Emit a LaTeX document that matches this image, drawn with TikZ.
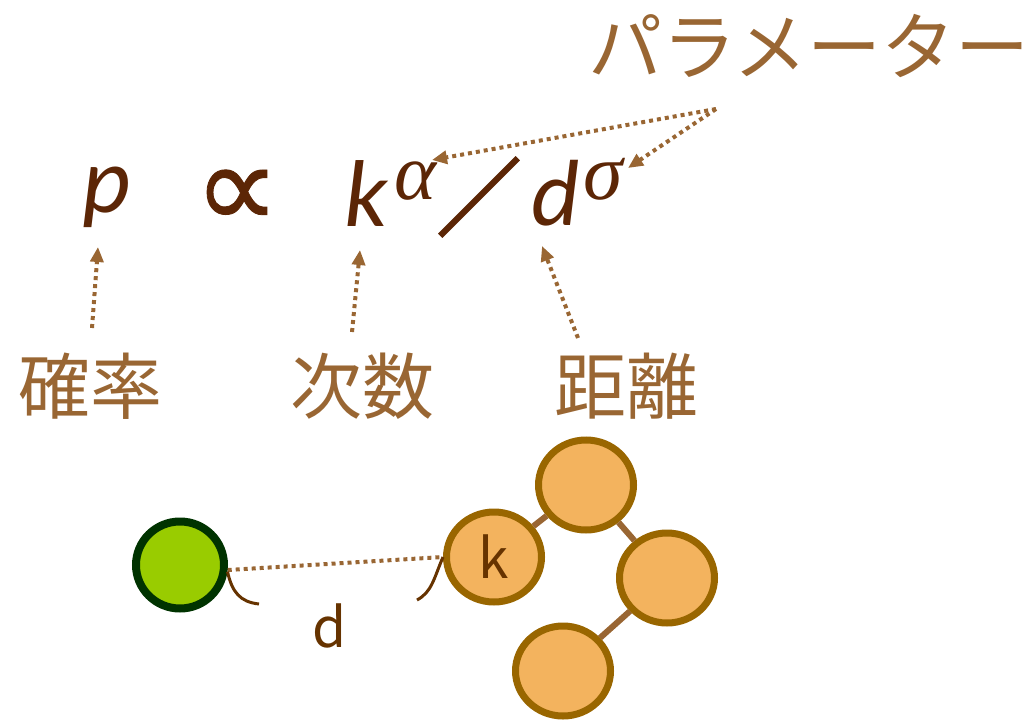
\documentclass[tikz,border=0pt]{standalone}
\usepackage{fontspec}
\usetikzlibrary{arrows.meta,shapes.geometric}
\newfontfamily\jpfont{Noto Sans CJK JP}
\newfontfamily\jpheavy[FakeBold=3]{Noto Sans CJK JP}
\newfontfamily\calfont{Carlito}
\newfontfamily\greekfont{Liberation Serif}
\newfontfamily\djfont[FakeBold=0.7]{DejaVu Sans}
\definecolor{labbrown}{HTML}{996633}
\definecolor{formbrown}{HTML}{5C2606}
\definecolor{darkbrown}{HTML}{663300}
\definecolor{orfill}{HTML}{F3B35E}
\definecolor{ordraw}{HTML}{996600}
\definecolor{grfill}{HTML}{99CC00}
\definecolor{grdraw}{HTML}{003300}
\tikzset{
  labeltext/.style={text=labbrown, font=\jpfont\fontsize{72}{80}\selectfont, inner sep=0pt},
  formtext/.style={text=formbrown, inner sep=0pt},
  dotarrow/.style={draw=labbrown, line width=4pt, dash pattern=on 4pt off 4pt, -{Triangle[length=15pt,width=13pt]}},
  dotline/.style={draw=labbrown, line width=4pt, dash pattern=on 4pt off 4pt},
  ornode/.style={ellipse, draw=ordraw, fill=orfill, line width=7pt, minimum width=95pt, minimum height=90pt, inner sep=0pt, text=darkbrown, font=\jpfont\fontsize{55}{60}\selectfont},
  grnode/.style={ellipse, draw=grdraw, fill=grfill, line width=8pt, minimum width=88pt, minimum height=87pt, inner sep=0pt},
  edge/.style={draw=labbrown, line width=6pt},
  brace/.style={draw=darkbrown, line width=3pt}
}
\begin{document}
\begin{tikzpicture}[x=1pt,y=-1pt]
\useasboundingbox (0,0) rectangle (1035,722);
% title
\node[labeltext, font=\jpfont\fontsize{74}{80}\selectfont] (param) at (809,46) {パラメーター};
% formula
\node[formtext, anchor=base, font=\calfont\itshape\fontsize{94}{94}\selectfont] (p) at (107,212) {p};
\node[formtext, font=\djfont\fontsize{120}{120}\selectfont] (prop) at (237,199) {∝};
\node[formtext, anchor=base, font=\calfont\itshape\fontsize{95}{95}\selectfont] (k) at (366,226) {k};
\node[formtext, anchor=base, font=\greekfont\itshape\fontsize{80}{80}\selectfont] (alpha) at (415,200) {α};
\node[formtext, font=\jpheavy\fontsize{84}{84}\selectfont] (slash) at (479,197) {／};
\node[formtext, anchor=base, font=\calfont\itshape\fontsize{94}{94}\selectfont] (d) at (556,225) {d};
\node[formtext, anchor=base, font=\greekfont\itshape\fontsize{80}{80}\selectfont] (sigma) at (603,200) {σ};
% labels
\node[labeltext] (prob) at (90,386) {確率};
\node[labeltext] (deg) at (362,386) {次数};
\node[labeltext] (dist) at (626,386) {距離};
% arrows
\coordinate (src) at (716,109);
\coordinate (tipA) at (432,160);
\coordinate (tipS) at (628,168);
\coordinate (t1) at (92,328);
\coordinate (h1) at (98,247);
\coordinate (t2) at (352,332);
\coordinate (h2) at (360,250);
\coordinate (t3) at (578,338);
\coordinate (h3) at (542,246);
\draw[dotarrow] (src) -- (tipA);
\draw[dotarrow] (src) -- (tipS);
\draw[dotarrow] (t1) -- (h1);
\draw[dotarrow] (t2) -- (h2);
\draw[dotarrow] (t3) -- (h3);
% graph
\node[grnode] (g) at (180,565) {};
\node[ornode] (top) at (586,485) {};
\node[ornode] (kn) at (494,557) {k};
\node[ornode] (right) at (667,578) {};
\node[ornode] (bottom) at (563,671) {};
\draw[edge] (top) -- (kn);
\draw[edge] (top) -- (right);
\draw[edge] (right) -- (bottom);
\draw[dotline] (g.-6) -- (kn.west);
% braces
\coordinate (b1e) at (259,604);
\coordinate (b2s) at (417,600);
\draw[brace] (g.-8) .. controls (232,592) and (240,602) .. (b1e);
\draw[brace] (b2s) .. controls (432,592) and (434,578) .. (kn.west);
\node[text=darkbrown, font=\jpfont\fontsize{55}{60}\selectfont, inner sep=0pt] (dl) at (330,626) {d};
\end{tikzpicture}
\end{document}
